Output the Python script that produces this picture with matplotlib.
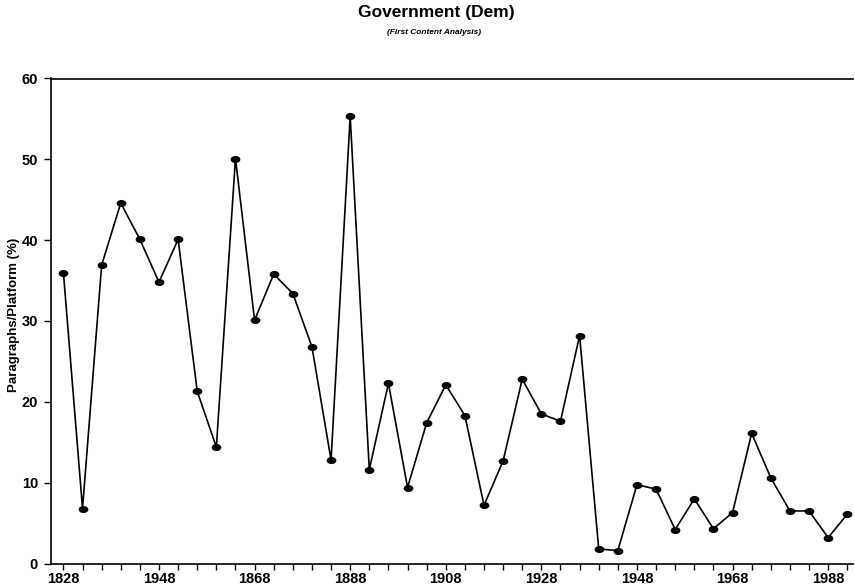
import matplotlib
matplotlib.use("Agg")
import matplotlib.pyplot as plt
import numpy as np
from matplotlib.path import Path

plt.rcParams['font.family'] = ['Liberation Sans', 'DejaVu Sans']

# ---- data ----
years = list(range(1828, 1993, 4))
values = [36.0, 6.8, 36.9, 44.6, 40.1, 34.8, 40.1, 21.3, 14.4, 50.1,
          30.1, 35.8, 33.4, 26.8, 12.8, 55.3, 11.6, 22.3, 9.4, 17.4,
          22.1, 18.3, 7.2, 12.7, 22.8, 18.5, 17.6, 28.2, 1.8, 1.6,
          9.75, 9.2, 4.2, 8.0, 4.3, 6.3, 16.1, 10.6, 6.5, 6.5,
          3.2, 6.1]
label_years = [1828, 1848, 1868, 1888, 1908, 1928, 1948, 1968, 1988]
label_texts = ["1828", "1948", "1868", "1888", "1908", "1928", "1948", "1968", "1988"]
y_ticks = [0, 10, 20, 30, 40, 50, 60]

title = "Government (Dem)"
subtitle = "(First Content Analysis)"
ylabel = "Paragraphs/Platform (%)"

# ---- figure ----
W, H = 855, 587
fig = plt.figure(figsize=(W / 100, H / 100), dpi=100)
left_px, right_px = 50.5, 853
bottom_px, top_px = 563.5, 78.5
ax = fig.add_axes([left_px / W, 1 - bottom_px / H,
                   (right_px - left_px) / W, (bottom_px - top_px) / H])

# elliptical marker
circ = Path.unit_circle()
ell = Path(circ.vertices * np.array([1.0, 0.68]), circ.codes)

ax.plot(years, values, color='black', lw=1.2, marker=ell, markersize=6,
        markerfacecolor='black', markeredgecolor='black')

ax.set_xlim(1825.3, 1993.2)
ax.set_ylim(0, 60)

labels = []
for y in years:
    if y in label_years:
        labels.append(label_texts[label_years.index(y)])
    else:
        labels.append("")
ax.set_xticks(years)
ax.set_xticklabels(labels, fontsize=10.5, fontweight='bold')
ax.set_yticks(y_ticks)
ax.set_yticklabels([str(v) for v in y_ticks], fontsize=10.5, fontweight='bold')

ax.tick_params(axis='x', direction='out', length=4, width=1.0, pad=2)
ax.tick_params(axis='y', direction='out', length=5, width=1.0, pad=4)

ax.spines['right'].set_visible(False)
for s in ['left', 'bottom', 'top']:
    ax.spines[s].set_linewidth(1.2)
    ax.spines[s].set_color('black')

fig.text(14 / W, 1 - 315 / H, ylabel, rotation=90, ha='center', va='center',
         fontsize=9.5, fontweight='bold')

fig.text(436 / W, 1 - 13 / H, title, ha='center', va='center',
         fontsize=12.5, fontweight='bold')
fig.text(434 / W, 1 - 33 / H, subtitle, ha='center', va='center',
         fontsize=6, fontweight='bold', fontstyle='italic')

fig.savefig("out.png", dpi=100)
